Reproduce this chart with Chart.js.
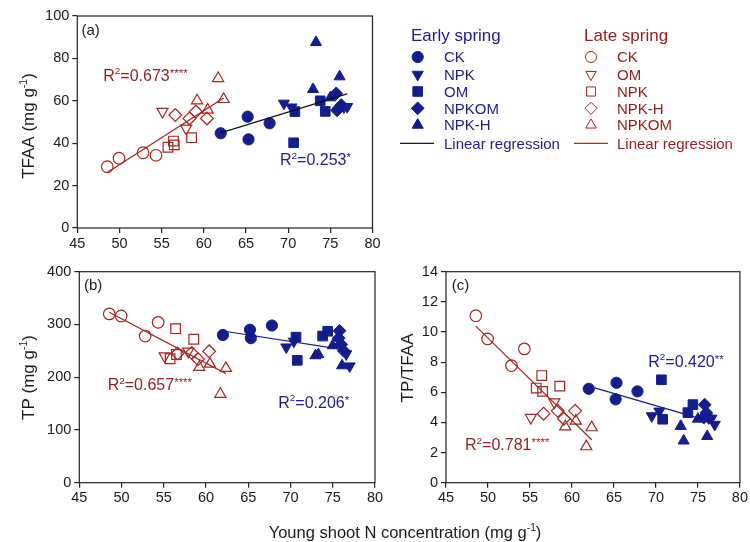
<!DOCTYPE html>
<html>
<head>
<meta charset="utf-8">
<script src="https://cdn.jsdelivr.net/npm/chart.js@4.4.0/dist/chart.umd.min.js"></script>
<style>
  html, body { margin: 0; padding: 0; background: #fff; }
  #wrap { position: relative; width: 750px; height: 542px; overflow: hidden; }
  canvas { position: absolute; }
</style>
</head>
<body>
<div id="wrap">
  <canvas id="chartA" width="750" height="258" style="left:0;top:0"></canvas>
  <canvas id="chartB" width="750" height="282" style="left:0;top:260px"></canvas>
  <canvas id="chartC" width="370" height="282" style="left:380px;top:260px"></canvas>
</div>
<script>
// tick labels
const nTicks = [45, 50, 55, 60, 65, 70, 75, 80]
const tfaaTicks = [0, 20, 40, 60, 80, 100]
const tpTicks = [0, 100, 200, 300, 400]
const ratioTicks = [0, 2, 4, 6, 8, 10, 12, 14]

// Early spring (filled markers): young shoot N, TFAA, TP, TP/TFAA
const earlyCkN = [62.0, 65.2, 65.3, 67.8]
const earlyCkTfaa = [44.7, 52.5, 41.8, 49.4]
const earlyCkTp = [280, 290, 274, 298]
const earlyCkRatio = [6.23, 5.53, 6.63, 6.06]

const earlyNpkN = [69.5, 70.4, 76.6, 77.0]
const earlyNpkTfaa = [58.8, 57.0, 57.0, 57.2]
const earlyNpkTp = [257, 268, 244, 221]
const earlyNpkRatio = [4.43, 4.74, 4.27, 3.86]

const earlyOmN = [70.65, 70.8, 73.8, 74.4]
const earlyOmTfaa = [40.2, 54.9, 60.0, 55.0]
const earlyOmTp = [276, 232, 278, 287]
const earlyOmRatio = [6.83, 4.21, 4.65, 5.18]

const earlyNpkomN = [75.8, 75.7, 76.0, 76.3]
const earlyNpkomTfaa = [55.5, 63.5, 56.5, 58.0]
const earlyNpkomTp = [288, 274, 262, 250]
const earlyNpkomRatio = [5.18, 4.32, 4.63, 4.30]

const earlyNpkhN = [72.95, 73.3, 76.1, 75.0]
const earlyNpkhTfaa = [65.4, 87.6, 71.4, 61.5]
const earlyNpkhTp = [241, 243, 222, 260]
const earlyNpkhRatio = [3.75, 2.78, 3.08, 4.23]

// Late spring (open markers)
const lateCkN = [48.55, 49.95, 52.8, 54.33]
const lateCkTfaa = [28.9, 32.9, 35.5, 34.3]
const lateCkTp = [320, 316, 278, 304]
const lateCkRatio = [11.08, 9.54, 7.77, 8.88]

const lateOmN = [55.1, 57.9]
const lateOmTfaa = [54.9, 47.0]
const lateOmTp = [240, 249]
const lateOmRatio = [4.32, 5.35]

const lateNpkN = [55.75, 56.4, 56.5, 58.55]
const lateNpkTfaa = [38.1, 41.0, 39.2, 42.6]
const lateNpkTp = [235, 292, 243, 272]
const lateNpkRatio = [6.28, 7.11, 6.06, 6.41]

const lateNpkhN = [56.62, 58.3, 59.05, 60.37]
const lateNpkhTfaa = [53.3, 51.7, 54.9, 51.7]
const lateNpkhTp = [245, 246, 234, 249]
const lateNpkhRatio = [4.58, 4.77, 4.25, 4.77]

const lateNpkomN = [59.2, 60.46, 61.7, 62.35]
const lateNpkomTfaa = [60.1, 55.7, 70.6, 60.7]
const lateNpkomTp = [219, 225, 168, 217]
const lateNpkomRatio = [3.72, 4.10, 2.40, 3.66]

const FONT = "'Liberation Sans', Arial, Helvetica, sans-serif"
const BLUE = '#121e8c'
const RED = '#a8241f'
const BLUE_TEXT = '#1d1d86'
const RED_TEXT = '#951d1d'
const INK = '#1a1a1a'

const earlyGroups = [
    { label: 'CK', style: 'circle', rot: 0, r: 5.6, n: earlyCkN, tfaa: earlyCkTfaa, tp: earlyCkTp, ratio: earlyCkRatio },
    { label: 'NPK', style: 'triangle', rot: 180, r: 6.4, n: earlyNpkN, tfaa: earlyNpkTfaa, tp: earlyNpkTp, ratio: earlyNpkRatio },
    { label: 'OM', style: 'rect', rot: 0, r: 6.8, n: earlyOmN, tfaa: earlyOmTfaa, tp: earlyOmTp, ratio: earlyOmRatio },
    { label: 'NPKOM', style: 'rectRot', rot: 0, r: 6.4, n: earlyNpkomN, tfaa: earlyNpkomTfaa, tp: earlyNpkomTp, ratio: earlyNpkomRatio },
    { label: 'NPK-H', style: 'triangle', rot: 0, r: 6.4, n: earlyNpkhN, tfaa: earlyNpkhTfaa, tp: earlyNpkhTp, ratio: earlyNpkhRatio }
]
const lateGroups = [
    { label: 'CK', style: 'circle', rot: 0, r: 5.8, n: lateCkN, tfaa: lateCkTfaa, tp: lateCkTp, ratio: lateCkRatio },
    { label: 'OM', style: 'triangle', rot: 180, r: 6.4, n: lateOmN, tfaa: lateOmTfaa, tp: lateOmTp, ratio: lateOmRatio },
    { label: 'NPK', style: 'rect', rot: 0, r: 6.8, n: lateNpkN, tfaa: lateNpkTfaa, tp: lateNpkTp, ratio: lateNpkRatio },
    { label: 'NPK-H', style: 'rectRot', rot: 0, r: 6.4, n: lateNpkhN, tfaa: lateNpkhTfaa, tp: lateNpkhTp, ratio: lateNpkhRatio },
    { label: 'NPKOM', style: 'triangle', rot: 0, r: 6.4, n: lateNpkomN, tfaa: lateNpkomTfaa, tp: lateNpkomTp, ratio: lateNpkomRatio }
]

// text with superscripts: each part {t, s: size factor, dy: raise factor}
function drawRich(ctx, parts, x, y, size, color, align) {
    ctx.save()
    ctx.fillStyle = color
    ctx.textBaseline = 'alphabetic'
    ctx.textAlign = 'left'
    let total = 0
    for (const p of parts) {
        ctx.font = (size * (p.s || 1)) + 'px ' + FONT
        total += ctx.measureText(p.t).width
    }
    let cx = align === 'center' ? x - total / 2 : x
    for (const p of parts) {
        ctx.font = (size * (p.s || 1)) + 'px ' + FONT
        ctx.fillText(p.t, cx, y - size * (p.dy || 0))
        cx += ctx.measureText(p.t).width
    }
    ctx.restore()
}
const sup = (t) => ({ t: t, s: 0.62, dy: 0.4 })
const rsq = (v, stars) => [{ t: 'R' }, sup('2'), { t: '=' + v }, { t: stars, s: 0.72, dy: 0.26 }]
const unitTitle = (name) => [{ t: name + ' (mg g' }, sup('-1'), { t: ')' }]

function drawVertical(ctx, parts, x, y, size) {
    ctx.save()
    ctx.translate(x, y)
    ctx.rotate(-Math.PI / 2)
    drawRich(ctx, parts, 0, 0, size, INK, 'center')
    ctx.restore()
}

function pts(xs, ys) {
    return xs.map((x, i) => ({ x: x, y: ys[i] }))
}

function fitLine(groups, key) {
    const xs = [], ys = []
    groups.forEach(g => { xs.push(...g.n); ys.push(...g[key]) })
    const mx = xs.reduce((a, b) => a + b, 0) / xs.length
    const my = ys.reduce((a, b) => a + b, 0) / ys.length
    let sxy = 0, sxx = 0
    xs.forEach((x, i) => { sxy += (x - mx) * (ys[i] - my); sxx += (x - mx) * (x - mx) })
    const slope = sxy / sxx
    const x0 = Math.min(...xs), x1 = Math.max(...xs)
    return [{ x: x0, y: my + slope * (x0 - mx) }, { x: x1, y: my + slope * (x1 - mx) }]
}

const framePlugin = {
    id: 'frame',
    afterDraw(chart) {
        const a = chart.chartArea, ctx = chart.ctx
        ctx.save()
        ctx.strokeStyle = '#222'
        ctx.lineWidth = 1.2
        ctx.strokeRect(a.left, a.top, a.right - a.left, a.bottom - a.top)
        ctx.restore()
    }
}

function makePanel(id, key, yTicks, area, earlyLineColor, texts) {
    const canvas = document.getElementById(id)
    const W = canvas.width, H = canvas.height
    const datasets = [
        { type: 'line', data: fitLine(earlyGroups, key), borderColor: earlyLineColor, borderWidth: 1.2, pointRadius: 0, fill: false },
        { type: 'line', data: fitLine(lateGroups, key), borderColor: RED, borderWidth: 1.2, pointRadius: 0, fill: false }
    ]
    lateGroups.forEach(g => datasets.push({
        label: 'Late ' + g.label, data: pts(g.n, g[key]), pointStyle: g.style, rotation: g.rot, pointRadius: g.r,
        backgroundColor: 'rgba(0,0,0,0)', borderColor: RED, borderWidth: 1.2
    }))
    earlyGroups.forEach(g => datasets.push({
        label: 'Early ' + g.label, data: pts(g.n, g[key]), pointStyle: g.style, rotation: g.rot, pointRadius: g.r,
        backgroundColor: BLUE, borderColor: BLUE, borderWidth: 1
    }))

    const tickGrid = { display: true, drawOnChartArea: false, drawTicks: true, tickLength: 5, color: '#222', lineWidth: 1.2 }
    return new Chart(canvas.getContext('2d'), {
        type: 'scatter',
        data: { datasets: datasets },
        options: {
            responsive: false,
            animation: false,
            events: [],
            layout: { padding: { left: 0, top: area.top, right: W - area.right, bottom: 0 } },
            plugins: { legend: { display: false }, tooltip: { enabled: false } },
            scales: {
                x: {
                    type: 'linear', min: nTicks[0], max: nTicks[nTicks.length - 1],
                    afterBuildTicks: (s) => { s.ticks = nTicks.map(v => ({ value: v })) },
                    afterFit: (s) => { s.height = H - area.bottom },
                    grid: tickGrid,
                    border: { display: false },
                    ticks: { color: INK, padding: 2, maxRotation: 0, autoSkip: false, font: { family: FONT, size: 14.5 } }
                },
                y: {
                    type: 'linear', min: yTicks[0], max: yTicks[yTicks.length - 1],
                    afterBuildTicks: (s) => { s.ticks = yTicks.map(v => ({ value: v })) },
                    afterFit: (s) => { s.width = area.left },
                    grid: tickGrid,
                    border: { display: false },
                    ticks: { color: INK, padding: 3, font: { family: FONT, size: 14.5 } }
                }
            }
        },
        plugins: [framePlugin, { id: 'texts', afterDraw: (chart) => texts(chart.ctx) }]
    })
}

function drawLegend(ctx) {
    drawRich(ctx, [{ t: 'Early spring' }], 411, 41, 17, BLUE_TEXT)
    drawRich(ctx, [{ t: 'Late spring' }], 584, 41, 17, RED_TEXT)
    const rowY = [57, 74.5, 91.5, 108.3, 125]
    rowY.forEach((y, i) => {
        const e = earlyGroups[i], l = lateGroups[i]
        ctx.save()
        ctx.fillStyle = BLUE
        ctx.strokeStyle = BLUE
        Chart.helpers.drawPoint(ctx, { pointStyle: e.style, rotation: e.rot, radius: e.r, borderWidth: 1 }, 417.7, y)
        ctx.fillStyle = 'rgba(0,0,0,0)'
        ctx.strokeStyle = RED
        Chart.helpers.drawPoint(ctx, { pointStyle: l.style, rotation: l.rot, radius: l.r * 0.95, borderWidth: 1.2 }, 591, y)
        ctx.restore()
        drawRich(ctx, [{ t: e.label }], 444, y + 5.4, 15, BLUE_TEXT)
        drawRich(ctx, [{ t: l.label }], 617, y + 5.4, 15, RED_TEXT)
    })
    ctx.save()
    ctx.lineWidth = 1.2
    ctx.strokeStyle = '#222'
    ctx.beginPath(); ctx.moveTo(400, 143.3); ctx.lineTo(434, 143.3); ctx.stroke()
    ctx.strokeStyle = RED
    ctx.beginPath(); ctx.moveTo(574, 143.3); ctx.lineTo(608, 143.3); ctx.stroke()
    ctx.restore()
    drawRich(ctx, [{ t: 'Linear regression' }], 444, 148.7, 15, BLUE_TEXT)
    drawRich(ctx, [{ t: 'Linear regression' }], 617, 148.7, 15, RED_TEXT)
}

makePanel('chartA', 'tfaa', tfaaTicks, { left: 77.3, right: 372.5, top: 16, bottom: 228 }, '#111', (ctx) => {
    drawRich(ctx, [{ t: '(a)' }], 81.5, 35, 15, INK)
    drawRich(ctx, rsq('0.673', '****'), 103.3, 80.7, 16, RED_TEXT)
    drawRich(ctx, rsq('0.253', '*'), 280, 165, 16, BLUE_TEXT)
    drawVertical(ctx, unitTitle('TFAA'), 33.5, 126, 17)
    drawLegend(ctx)
})

makePanel('chartB', 'tp', tpTicks, { left: 79.3, right: 375, top: 11, bottom: 222.7 }, BLUE, (ctx) => {
    drawRich(ctx, [{ t: '(b)' }], 84, 30, 15, INK)
    drawRich(ctx, rsq('0.657', '****'), 107.7, 130, 16, RED_TEXT)
    drawRich(ctx, rsq('0.206', '*'), 278.3, 147.7, 16, BLUE_TEXT)
    drawVertical(ctx, unitTitle('TP'), 33.5, 117.5, 17)
    drawRich(ctx, [{ t: 'Young shoot N concentration (mg g' }, sup('-1'), { t: ')' }], 405, 278, 16.5, INK, 'center')
})

makePanel('chartC', 'ratio', ratioTicks, { left: 66, right: 361, top: 11, bottom: 222.7 }, BLUE, (ctx) => {
    drawRich(ctx, [{ t: '(c)' }], 71.7, 30, 15, INK)
    drawRich(ctx, rsq('0.420', '**'), 268.3, 106.7, 16, BLUE_TEXT)
    drawRich(ctx, rsq('0.781', '****'), 85, 190.3, 16, RED_TEXT)
    drawVertical(ctx, [{ t: 'TP/TFAA' }], 33, 108, 17)
})
</script>
</body>
</html>
